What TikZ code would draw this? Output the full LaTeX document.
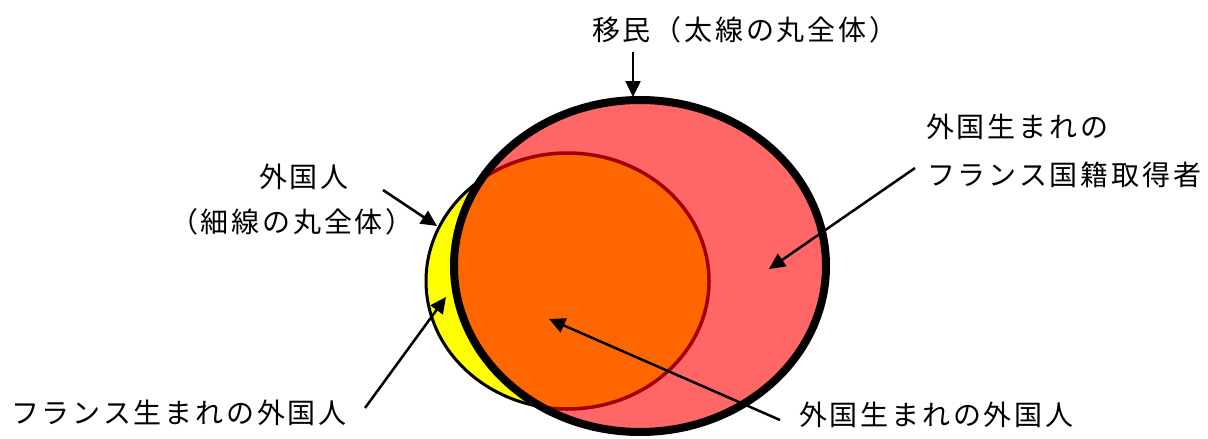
\documentclass[tikz,border=0pt]{standalone}
\usepackage{fontspec}
\newfontfamily\jp{Noto Sans CJK JP}[LetterSpace=10.0]
\usetikzlibrary{arrows.meta}
\definecolor{pinkfill}{HTML}{FF6666}
\definecolor{orangefill}{HTML}{FF6600}
\definecolor{yellowfill}{HTML}{FFFF00}
\definecolor{darkred}{HTML}{A00000}
\tikzset{
  label/.style={font=\jp\fontsize{28pt}{30pt}\selectfont, inner sep=0pt, anchor=west, text=black},
  pointer/.style={line width=2.5pt, -{Triangle[length=16pt,width=15pt]}}
}
\begin{document}
\begin{tikzpicture}[x=1pt,y=-1pt]
\useasboundingbox (0,0) rectangle (1208,439);
% small ellipse (foreigners)
\fill[yellowfill] (567.5,281) ellipse [x radius=141.5, y radius=128];
\draw[black, line width=3pt] (567.5,281) ellipse [x radius=141.5, y radius=128];
% big circle (immigrants)
\fill[pinkfill] (640,266) ellipse [x radius=186, y radius=166];
\begin{scope}
  \clip (640,266) ellipse [x radius=186, y radius=166];
  \fill[orangefill] (567.5,281) ellipse [x radius=141.5, y radius=128];
  \draw[darkred, line width=3.5pt] (567.5,281) ellipse [x radius=141.5, y radius=128];
\end{scope}
\draw[black, line width=8pt] (640,266) ellipse [x radius=186, y radius=166];

% labels
\node[label] (imm) at (592,30) {移民（太線の丸全体）};
\node[label] (for1) at (259,177) {外国人};
\node[label] (for2) at (170,222) {（細線の丸全体）};
\node[label] (nat1) at (926,127) {外国生まれの};
\node[label] (nat2) at (927,175) {フランス国籍取得者};
\node[label] (fb) at (11,413) {フランス生まれの外国人};
\node[label] (fa) at (799,415) {外国生まれの外国人};

% arrow endpoints
\coordinate (immS) at (633,52);
\coordinate (immT) at (633,97);
\coordinate (forS) at (383,190);
\coordinate (forT) at (437,226);
\coordinate (natS) at (915,168);
\coordinate (natT) at (769,269);
\coordinate (fbS) at (365,408);
\coordinate (fbT) at (446,297);
\coordinate (faS) at (780,420);
\coordinate (faT) at (549,319);

\draw[pointer] (immS) -- (immT);
\draw[pointer] (forS) -- (forT);
\draw[pointer] (natS) -- (natT);
\draw[pointer] (fbS) -- (fbT);
\draw[pointer] (faS) -- (faT);
\end{tikzpicture}
\end{document}
